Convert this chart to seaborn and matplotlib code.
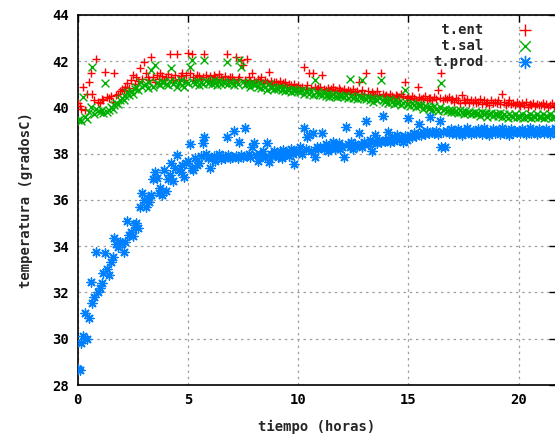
import numpy as np
import pandas as pd
import matplotlib
matplotlib.use('Agg')
import matplotlib.pyplot as plt
import seaborn as sns

# muestras cada 5 minutos (12 por hora), una fila por hora
t_ent = [
    [40.2, 40.05, 39.95, 40.9, 39.9, 40.6, 41.1, 41.5, 40.6, 40.3, 42.1, 40.25],
    [40.2, 40.35, 40.3, 41.55, 40.45, 40.4, 40.5, 40.25, 41.5, 40.55, 40.6, 40.7],
    [40.8, 40.75, 40.9, 41.05, 40.85, 41.2, 41.4, 41.0, 41.3, 41.15, 41.7, 41.25],
    [41.95, 41.5, 41.3, 41.2, 42.2, 41.3, 41.1, 41.4, 41.25, 41.5, 41.35, 41.2],
    [41.3, 41.45, 42.3, 41.3, 41.2, 41.4, 42.3, 41.25, 41.35, 41.5, 41.2, 41.4],
    [42.35, 41.5, 42.3, 41.3, 41.2, 41.4, 41.35, 41.25, 41.3, 42.3, 41.4, 41.2],
    [41.35, 41.2, 41.4, 41.3, 41.25, 41.45, 41.3, 41.2, 41.35, 42.3, 41.25, 41.3],
    [41.3, 41.2, 42.2, 41.25, 41.3, 42.05, 41.85, 41.2, 42.1, 41.3, 41.15, 41.5],
    [41.2, 41.1, 41.25, 41.15, 41.3, 41.05, 41.2, 41.1, 41.55, 41.15, 41.0, 41.1],
    [41.1, 41.0, 41.15, 40.95, 41.05, 41.1, 40.9, 41.0, 40.95, 40.85, 41.0, 40.9],
    [40.95, 40.85, 40.9, 41.75, 40.8, 40.95, 41.5, 40.85, 41.5, 40.9, 40.8, 40.85],
    [40.9, 41.4, 40.8, 40.75, 40.85, 40.7, 40.8, 40.9, 40.75, 40.7, 40.85, 40.75],
    [40.7, 40.8, 40.65, 40.75, 40.7, 40.6, 40.8, 40.65, 40.7, 41.1, 40.6, 40.75],
    [40.6, 41.5, 40.7, 40.55, 40.65, 40.6, 40.5, 40.7, 40.55, 41.5, 40.6, 40.5],
    [40.55, 40.45, 40.6, 40.5, 40.4, 40.55, 40.5, 40.45, 40.6, 40.5, 41.1, 40.4],
    [40.45, 40.35, 40.5, 40.4, 40.3, 40.9, 40.45, 40.35, 40.4, 40.5, 40.3, 40.4],
    [40.4, 40.3, 40.45, 40.35, 40.75, 40.4, 41.5, 40.3, 40.4, 40.35, 40.45, 40.3],
    [40.35, 40.25, 40.4, 40.3, 40.2, 40.55, 40.3, 40.25, 40.35, 40.2, 40.3, 40.25],
    [40.3, 40.2, 40.25, 40.35, 40.15, 40.3, 40.2, 40.25, 40.1, 40.3, 40.2, 40.25],
    [40.2, 40.3, 40.15, 40.6, 40.25, 40.1, 40.2, 40.3, 40.15, 40.2, 40.1, 40.25],
    [40.15, 40.05, 40.2, 40.1, 40.25, 40.0, 40.15, 40.1, 40.2, 40.05, 40.15, 40.1],
    [40.1, 40.2, 40.05, 40.15, 40.0, 40.1, 40.2, 40.05, 40.1, 40.15, 40.0, 40.1],
]

t_sal = [
    [39.45, 39.5, 39.4, 40.45, 39.6, 39.5, 39.8, 40.0, 41.75, 39.7, 39.95, 39.85],
    [39.8, 39.9, 39.75, 41.05, 39.8, 39.9, 40.0, 39.95, 40.1, 40.2, 40.15, 40.3],
    [40.4, 40.3, 40.5, 40.65, 40.55, 40.7, 40.6, 40.8, 40.9, 40.75, 41.1, 40.9],
    [40.95, 41.0, 40.85, 41.1, 41.6, 40.9, 41.85, 41.05, 41.0, 40.95, 41.1, 41.1],
    [41.0, 40.95, 41.15, 41.7, 41.0, 41.1, 40.9, 41.05, 41.2, 40.95, 40.9, 41.1],
    [41.05, 41.75, 42.05, 41.1, 41.0, 41.15, 40.95, 41.1, 41.0, 42.05, 41.15, 41.05],
    [41.1, 41.0, 41.2, 41.05, 40.95, 41.15, 41.0, 41.1, 41.05, 41.95, 41.0, 41.1],
    [41.05, 40.95, 41.1, 41.0, 42.05, 41.75, 41.1, 40.95, 41.05, 41.0, 40.9, 41.05],
    [40.95, 41.0, 40.9, 41.05, 40.85, 40.95, 40.9, 40.75, 41.0, 40.85, 40.9, 40.8],
    [40.85, 40.8, 40.9, 40.75, 40.85, 40.7, 40.8, 40.75, 40.65, 40.8, 40.7, 40.75],
    [40.7, 40.65, 40.75, 40.6, 40.7, 40.65, 40.6, 40.7, 40.55, 41.2, 40.65, 40.6],
    [40.6, 40.55, 40.65, 40.5, 40.6, 40.45, 40.55, 40.6, 40.5, 40.45, 40.55, 40.5],
    [40.5, 40.45, 40.55, 40.4, 41.25, 40.5, 40.4, 40.45, 40.35, 40.5, 40.4, 41.2],
    [40.4, 40.35, 40.45, 40.3, 40.4, 40.25, 40.35, 40.3, 40.4, 41.2, 40.3, 40.25],
    [40.3, 40.2, 40.35, 40.25, 40.15, 40.3, 40.2, 40.25, 40.1, 40.2, 40.75, 40.15],
    [40.15, 40.05, 40.2, 40.1, 40.0, 40.15, 40.05, 40.1, 39.95, 40.05, 40.0, 39.95],
    [40.0, 39.9, 40.05, 39.95, 39.85, 40.0, 41.05, 39.9, 39.95, 39.85, 39.9, 39.8],
    [39.9, 39.8, 39.85, 39.75, 39.9, 39.8, 39.7, 39.85, 39.75, 39.8, 39.7, 39.75],
    [39.8, 39.7, 39.75, 39.65, 39.8, 39.7, 39.75, 39.6, 39.7, 39.75, 39.65, 39.7],
    [39.7, 39.65, 39.75, 39.6, 39.7, 39.65, 39.55, 39.7, 39.65, 39.6, 39.7, 39.6],
    [39.65, 39.6, 39.7, 39.55, 39.65, 39.6, 39.7, 39.55, 39.65, 39.6, 39.7, 39.6],
    [39.6, 39.7, 39.55, 39.65, 39.6, 39.7, 39.55, 39.65, 39.6, 39.7, 39.6, 39.65],
]

t_prod = [
    [28.7, 28.65, 29.8, 30.1, 31.1, 30.0, 30.9, 32.45, 31.55, 31.8, 33.75, 32.0],
    [32.2, 32.4, 32.85, 33.7, 33.0, 32.75, 33.3, 33.55, 34.35, 34.1, 33.95, 34.2],
    [34.15, 33.75, 34.2, 35.1, 34.5, 34.6, 34.45, 34.9, 35.0, 34.8, 35.7, 36.3],
    [36.0, 35.7, 36.1, 35.9, 36.2, 36.9, 37.2, 36.95, 36.3, 36.5, 36.2, 37.3],
    [36.4, 36.9, 37.1, 37.6, 36.8, 37.4, 37.95, 37.3, 37.2, 37.5, 37.0, 37.6],
    [37.7, 38.4, 37.4, 37.3, 37.8, 37.5, 37.6, 37.9, 38.45, 38.7, 38.0, 37.8],
    [37.4, 37.8, 37.9, 37.7, 37.85, 38.0, 37.75, 37.9, 37.8, 38.7, 37.95, 37.8],
    [37.85, 39.0, 37.9, 37.8, 38.5, 37.95, 37.85, 39.1, 37.9, 38.0, 37.85, 38.3],
    [38.45, 37.95, 37.7, 38.0, 37.9, 38.1, 37.85, 38.45, 37.65, 38.0, 37.9, 38.1],
    [38.0, 37.85, 38.1, 37.8, 38.15, 38.0, 38.05, 37.9, 38.2, 38.0, 37.55, 38.1],
    [38.1, 38.3, 38.0, 39.1, 38.2, 38.7, 38.8, 38.1, 38.9, 37.85, 38.3, 38.2],
    [38.3, 38.9, 38.2, 38.4, 38.1, 38.35, 38.25, 38.5, 38.2, 38.3, 38.45, 38.2],
    [38.3, 37.85, 39.15, 38.4, 38.3, 38.5, 38.2, 38.4, 38.35, 38.9, 38.4, 38.3],
    [38.5, 39.4, 38.4, 38.6, 38.1, 38.5, 38.8, 38.45, 38.6, 38.5, 39.65, 38.55],
    [38.6, 38.95, 38.5, 38.7, 38.55, 38.65, 38.8, 38.6, 38.7, 38.5, 38.75, 38.6],
    [39.55, 38.8, 38.7, 38.9, 38.75, 38.85, 39.3, 38.8, 38.95, 38.85, 39.0, 38.9],
    [39.6, 38.95, 38.9, 39.0, 38.85, 39.4, 38.3, 38.95, 38.3, 39.0, 38.9, 39.05],
    [38.9, 39.0, 38.85, 39.05, 38.95, 38.8, 39.0, 38.9, 39.1, 38.95, 38.85, 39.0],
    [39.0, 38.9, 39.05, 38.95, 38.85, 39.1, 38.95, 39.0, 38.8, 38.95, 39.05, 38.9],
    [38.95, 39.0, 38.85, 39.1, 38.9, 39.0, 38.95, 38.8, 39.05, 38.9, 39.0, 38.95],
    [39.0, 38.9, 39.05, 38.95, 38.85, 39.0, 39.1, 38.9, 38.95, 39.0, 38.85, 39.05],
    [38.95, 39.0, 38.9, 39.05, 38.95, 38.85, 39.0, 38.95, 39.1, 38.9, 39.0, 38.95],
]

series = [(' t.ent', t_ent, '+', '#ff0000', 40),
          (' t.sal', t_sal, 'x', '#00b000', 32),
          ('t.prod', t_prod, (8, 2, 0), '#0080ff', 42)]

# armar un DF largo
dfs = []
for nombre, filas, _, _, _ in series:
    vals = np.concatenate(filas)
    tmp = pd.DataFrame({'tiempo': np.arange(len(vals)) / 12, 'temp': vals})
    tmp['serie'] = nombre
    dfs.append(tmp)
df = pd.concat(dfs, ignore_index=True)

sns.set_style('white')
plt.rcParams['font.family'] = ['DejaVu Sans Mono']
plt.rcParams['font.weight'] = 'bold'

fig = plt.figure(figsize=(5.55, 4.38), dpi=100)
ax = fig.add_axes([0.140, 0.121, 0.862, 0.845])

for nombre, _, mk, col, sz in series:
    sns.scatterplot(data=df[df.serie == nombre], x='tiempo', y='temp', marker=mk,
                    color=col, s=sz, linewidth=1.0, label=nombre, ax=ax, zorder=3)

ax.set_xlim(0, 21.7)
ax.set_ylim(28, 44)
ax.set_xticks([0, 5, 10, 15, 20])
ax.set_yticks([28, 30, 32, 34, 36, 38, 40, 42, 44])
ax.grid(True, color='#a0a0a0', linestyle=(0, (2, 3)), linewidth=0.9)
ax.tick_params(direction='in', length=5, width=1, top=True, right=True,
               labelsize=10, pad=6, colors='black')
for lab in ax.get_xticklabels() + ax.get_yticklabels():
    lab.set_fontweight('bold')
for s in ['left', 'bottom', 'top']:
    ax.spines[s].set_linewidth(1.2)
    ax.spines[s].set_color('black')
ax.spines['right'].set_visible(False)

ax.set_xlabel('tiempo (horas)', fontsize=10, fontweight='bold', labelpad=9)
ax.set_ylabel('temperatura (gradosC)', fontsize=10, fontweight='bold', labelpad=14)

leg = ax.legend(loc='upper right', bbox_to_anchor=(0.985, 1.005), frameon=False,
                markerfirst=False, fontsize=10, handletextpad=2.0, markerscale=1.35,
                labelspacing=0.15, borderaxespad=0.3)
for txt in leg.get_texts():
    txt.set_fontweight('bold')

fig.savefig('out.png', dpi=100)
